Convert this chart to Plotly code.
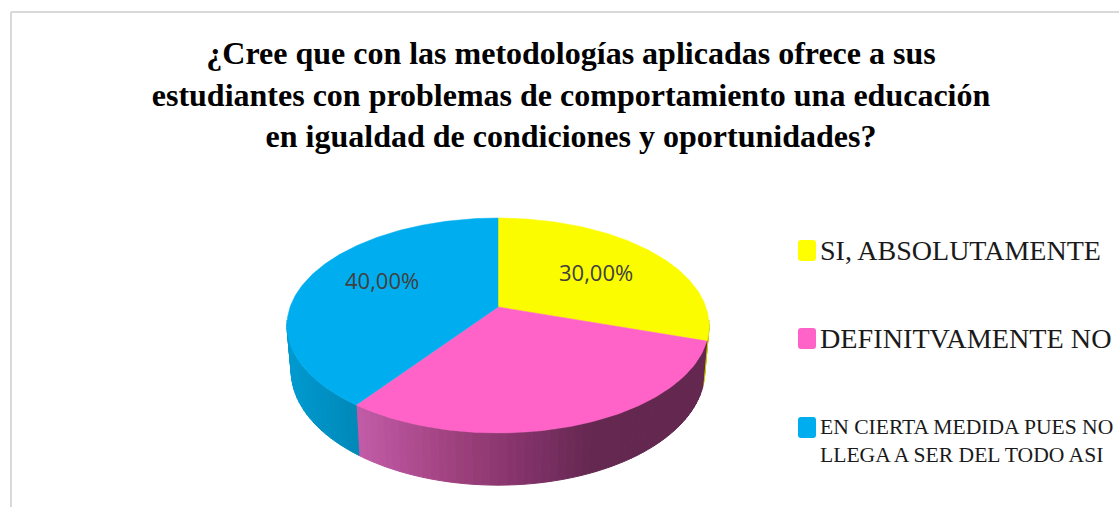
import math
import plotly.graph_objects as go

# ---- data ----
categories = ["SI, ABSOLUTAMENTE", "DEFINITVAMENTE NO", "EN CIERTA MEDIDA PUES NO<br>LLEGA A SER DEL TODO ASI"]
values = [30.0, 30.0, 40.0]
slice_labels = ["30,00%", "", "40,00%"]
title_text = ("¿Cree que con las metodologías aplicadas ofrece a sus<br>"
              "estudiantes con problemas de comportamiento una educación<br>"
              "en igualdad de condiciones y oportunidades?")

# ---- style ----
top_colors = ["#FCFC00", "#FF63C8", "#00AEEF"]
wall_stops = [
    [(690, "#C8C800"), (710, "#C8C800")],
    [(358, "#C25BA8"), (450, "#A0427F"), (520, "#84336B"), (590, "#652850"), (705, "#632750")],
    [(288, "#009AD0"), (358, "#0088B8")],
]
CX, CY, A, B, K = 498, 307, 207.9, 104.3, 0.172


def project(theta, r=1.0):
    u, v = r * math.sin(theta), r * math.cos(theta)
    w = 1 + K * v
    return CX + A * u / w, CY - B * v / w


def project_low(theta):
    x, y = project(theta)
    return CX + 0.98 * (x - CX), 351 + 1.065 * (y - CY)


def hex_rgb(c):
    return tuple(int(c[i:i + 2], 16) for i in (1, 3, 5))


def ramp(stops, x):
    if x <= stops[0][0]:
        return stops[0][1]
    for (x0, c0), (x1, c1) in zip(stops, stops[1:]):
        if x <= x1:
            t = (x - x0) / (x1 - x0)
            a, b = hex_rgb(c0), hex_rgb(c1)
            return "rgb(%d,%d,%d)" % tuple(round(p + (q - p) * t) for p, q in zip(a, b))
    return stops[-1][1]


def frange(a, b, step):
    n = max(2, int(abs(b - a) / step) + 1)
    return [a + (b - a) * i / (n - 1) for i in range(n)]


fig = go.Figure()
total = sum(values)
edges = [0.0]
for val in values:
    edges.append(edges[-1] + val / total * 2 * math.pi)

visible_from = math.radians(97)
visible_to = math.radians(263)

# side walls, as narrow strips so the shading runs across the rim
for i in range(len(values)):
    a0, a1 = max(edges[i], visible_from), min(edges[i + 1], visible_to)
    if a1 <= a0:
        continue
    ts = frange(a0, a1, math.radians(2))
    for t0, t1 in zip(ts, ts[1:]):
        p = [project(t0), project(t1), project_low(t1), project_low(t0), project(t0)]
        xm = sum(q[0] for q in p[:4]) / 4
        col = ramp(wall_stops[i], xm)
        fig.add_trace(go.Scatter(x=[q[0] for q in p], y=[q[1] for q in p], mode="lines",
                                 fill="toself", fillcolor=col, line=dict(color=col, width=1),
                                 hoverinfo="skip", showlegend=False))

# pie top
for i, cat in enumerate(categories):
    ts = frange(edges[i], edges[i + 1], math.radians(1))
    rim = [project(t) for t in ts]
    xs = [CX] + [q[0] for q in rim] + [CX]
    ys = [CY] + [q[1] for q in rim] + [CY]
    fig.add_trace(go.Scatter(x=xs, y=ys, mode="lines", fill="toself", fillcolor=top_colors[i],
                             line=dict(color=top_colors[i], width=0.5), name=cat.replace("<br>", " "),
                             hoverinfo="skip", showlegend=False))

annotations = []
label_pos = [(596, 271.5), None, (382, 279.5)]
for lab, pos in zip(slice_labels, label_pos):
    if lab:
        annotations.append(dict(x=pos[0], y=pos[1], text=lab, showarrow=False, xref="x", yref="y",
                                font=dict(family="Open Sans", size=22, color="#404040")))

legend_fonts = [28, 28.2, 21.6]
legend_text_y = [250, 338, 441]
key_y = [(240, 261), (328, 349), (417, 438)]
shapes = []
for i, cat in enumerate(categories):
    annotations.append(dict(x=818, y=legend_text_y[i], text=cat, showarrow=False, xref="x", yref="y",
                            xanchor="left", yanchor="middle", align="left",
                            font=dict(family="Liberation Serif", size=legend_fonts[i], color="#1a1a1a")))
    y0, y1 = key_y[i]
    x0, x1, r = 798, 816, 3
    shapes.append(dict(type="path", xref="x", yref="y", fillcolor=top_colors[i] if i else "#FFFF00",
                       line=dict(width=0),
                       path=f"M{x0+r},{y0} L{x1-r},{y0} Q{x1},{y0} {x1},{y0+r} L{x1},{y1-r} Q{x1},{y1} {x1-r},{y1} "
                            f"L{x0+r},{y1} Q{x0},{y1} {x0},{y1-r} L{x0},{y0+r} Q{x0},{y0} {x0+r},{y0} Z"))

# chart frame
shapes.append(dict(type="line", xref="x", yref="y", x0=11, x1=1119, y0=12, y1=12,
                   line=dict(color="#D9D9D9", width=2)))
shapes.append(dict(type="line", xref="x", yref="y", x0=11, x1=11, y0=12, y1=507,
                   line=dict(color="#D9D9D9", width=2)))

fig.update_layout(
    width=1119, height=507, autosize=False,
    margin=dict(l=0, r=0, t=0, b=0),
    paper_bgcolor="white", plot_bgcolor="white",
    showlegend=False,
    xaxis=dict(range=[0, 1119], visible=False, fixedrange=True),
    yaxis=dict(range=[507, 0], visible=False, fixedrange=True),
    title=dict(text=title_text, x=571 / 1119, xanchor="center", y=1 - 64 / 507, yanchor="top",
               font=dict(family="Liberation Serif", size=32, color="#000000", weight="bold")),
    annotations=annotations,
    shapes=shapes,
)

fig.write_html("out.html", config=dict(displayModeBar=False),
               post_script="document.body.style.margin='0';document.body.style.overflow='hidden';")
